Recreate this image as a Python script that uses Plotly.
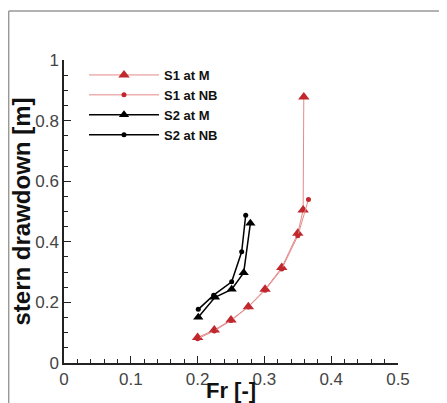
import plotly.graph_objects as go

# Data
s1_m_fr = [0.200, 0.225, 0.250, 0.276, 0.301, 0.326, 0.350, 0.358, 0.359]
s1_m_dd = [0.084, 0.109, 0.142, 0.186, 0.243, 0.315, 0.428, 0.505, 0.878]

s1_nb_fr = [0.200, 0.225, 0.250, 0.276, 0.301, 0.326, 0.350, 0.366]
s1_nb_dd = [0.080, 0.106, 0.140, 0.185, 0.240, 0.310, 0.420, 0.540]

s2_m_fr = [0.201, 0.226, 0.251, 0.269, 0.279]
s2_m_dd = [0.151, 0.217, 0.243, 0.298, 0.461]

s2_nb_fr = [0.201, 0.224, 0.251, 0.266, 0.272]
s2_nb_dd = [0.177, 0.224, 0.268, 0.367, 0.488]

x_ticks = [0, 0.1, 0.2, 0.3, 0.4, 0.5]
y_ticks = [0, 0.2, 0.4, 0.6, 0.8, 1]

RED = "#c0282e"
PINK = "#e58a8a"
FONT = "Liberation Sans, Arial, sans-serif"

fig = go.Figure()
fig.add_trace(go.Scatter(x=s1_m_fr, y=s1_m_dd, name="<b>S1 at M</b>", mode="lines+markers",
                         line=dict(color=PINK, width=1),
                         marker=dict(symbol="triangle-up", size=10, color=RED)))
fig.add_trace(go.Scatter(x=s1_nb_fr, y=s1_nb_dd, name="<b>S1 at NB</b>", mode="lines+markers",
                         line=dict(color=PINK, width=1),
                         marker=dict(symbol="circle", size=5, color=RED)))
fig.add_trace(go.Scatter(x=s2_m_fr, y=s2_m_dd, name="<b>S2 at M</b>", mode="lines+markers",
                         line=dict(color="black", width=1.5),
                         marker=dict(symbol="triangle-up", size=9, color="black")))
fig.add_trace(go.Scatter(x=s2_nb_fr, y=s2_nb_dd, name="<b>S2 at NB</b>", mode="lines+markers",
                         line=dict(color="black", width=1.5),
                         marker=dict(symbol="circle", size=5, color="black")))

axis_common = dict(
    showline=True, linecolor="#222", linewidth=1.5, mirror=False,
    ticks="inside", ticklen=7, tickwidth=1.2, tickcolor="#222",
    showgrid=False, zeroline=False, automargin=False,
    tickfont=dict(family=FONT, size=17, color="#444"),
)

fig.update_xaxes(range=[x_ticks[0], x_ticks[-1]], tickmode="linear", tick0=x_ticks[0],
                 dtick=x_ticks[1] - x_ticks[0],
                 minor=dict(dtick=0.02, ticks="inside", ticklen=4, tickcolor="#222", tickwidth=1),
                 **axis_common)
fig.update_yaxes(range=[y_ticks[0], y_ticks[-1]], tickmode="linear", tick0=y_ticks[0],
                 dtick=y_ticks[1] - y_ticks[0],
                 minor=dict(dtick=0.05, ticks="inside", ticklen=4, tickcolor="#222", tickwidth=1),
                 title=dict(text="<b>stern drawdown [m]</b>", font=dict(family=FONT, size=24, color="#111"), standoff=0),
                 **axis_common)

# page has an 8px body margin, so the figure is sized/placed to compensate
W, H = 439, 395
ML, MR, MT, MB = 56, 49, 52, 40
PW, PH = W - ML - MR, H - MT - MB

fig.update_layout(
    width=W, height=H,
    margin=dict(l=ML, r=MR, t=MT, b=MB),
    paper_bgcolor="white", plot_bgcolor="white",
    showlegend=True,
    legend=dict(x=(84 - 64) / PW, y=1.0, xanchor="left", yanchor="top",
                itemwidth=70,
                font=dict(family=FONT, size=13, color="#111"),
                bgcolor="rgba(0,0,0,0)", tracegroupgap=0),
    annotations=[
        dict(text="<b>Fr [-]</b>", xref="paper", yref="paper", x=0.5, y=-27 / PH,
             xanchor="center", yanchor="middle", showarrow=False,
             font=dict(family=FONT, size=22, color="#111")),
    ],
    shapes=[
        dict(type="line", xref="paper", yref="paper", x0=-ML / PW + 0.002, x1=1.2,
             y0=(PH + MT - 3) / PH, y1=(PH + MT - 3) / PH,
             line=dict(color="#999", width=1.5)),
        dict(type="line", xref="paper", yref="paper", x0=-ML / PW + 0.002, x1=-ML / PW + 0.002,
             y0=-0.2, y1=(PH + MT - 3) / PH,
             line=dict(color="#999", width=1.5)),
    ],
)

fig.write_html("out.html")
